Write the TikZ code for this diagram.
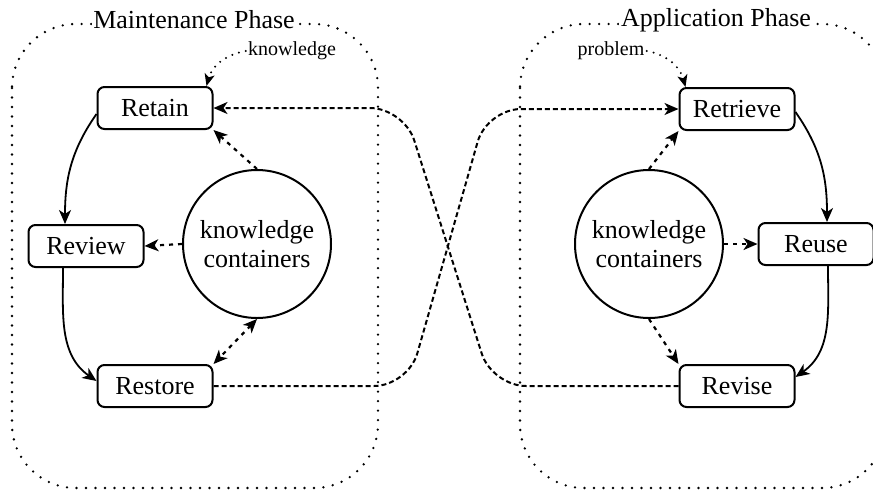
\documentclass[tikz,border=0pt]{standalone}
\usepackage{fontspec}
\setmainfont{Liberation Serif}
\usetikzlibrary{arrows.meta}

\tikzset{
  stage/.style={draw, line width=1pt, rounded corners=3.5pt, minimum width=57.5pt,
    minimum height=21pt, inner sep=0pt, font=\fontsize{13}{15}\selectfont},
  kbase/.style={draw, circle, line width=1pt, minimum size=74pt, inner sep=0pt,
    align=center, font=\fontsize{13}{14.5}\selectfont},
  phase/.style={line width=1.3pt, line cap=round, dash pattern=on 0pt off 4.75pt,
    rounded corners=32pt},
  tip/.style={-{Stealth[length=7pt,width=6pt,inset=2pt]}},
  flow/.style={tip, line width=0.9pt},
  kflow/.style={tip, line width=1.1pt, dash pattern=on 2pt off 2.5pt},
  inflow/.style={line width=1.1pt, line cap=round, dash pattern=on 0pt off 3.5pt,
    -{Stealth[length=6pt,width=5pt,inset=1.5pt]}},
  handover/.style={line width=1pt, dash pattern=on 2.5pt off 1.5pt, rounded corners=17pt},
}

\begin{document}
\begin{tikzpicture}[x=0.5pt,y=-0.5pt]
        \clip (0,0) rectangle (873,494);

        % Phasen
        \draw[phase] (12,24) rectangle (378,488);
        \draw[phase] (520,24) rectangle (886,488);
        \node[fill=white, inner sep=0.8pt, font=\fontsize{13}{15}\selectfont] (mphase) at (194,20) {Maintenance Phase};
        \node[fill=white, inner sep=0.8pt, font=\fontsize{13}{15}\selectfont] (aphase) at (716,20) {Application Phase};

        % Wartung
        \node[stage] (Retain) at (155,108) {Retain};
        \node[stage] (Review) at (86,246) {Review};
        \node[stage] (Restore) at (155,386) {Restore};
        \node[kbase] (Kl) at (257,244) {knowledge\\containers};

        % Anwendung
        \node[stage] (Retrieve) at (737,109) {Retrieve};
        \node[stage] (Reuse) at (816,244) {Reuse};
        \node[stage] (Revise) at (737,386) {Revise};
        \node[kbase] (Kr) at (649,244) {knowledge\\containers};

        \node[font=\fontsize{10}{12}\selectfont, inner sep=1pt] (know) at (292,51) {knowledge};
        \node[font=\fontsize{10}{12}\selectfont, inner sep=1pt] (prob) at (611,51) {problem};

        % Zyklen
        \draw[flow] ([yshift=-3pt]Retain.west) to[out=-125, in=90] ([xshift=-10.5pt]Review.north);
        \draw[flow] ([xshift=-11.5pt]Review.south) to[out=-90, in=145] ([yshift=2.5pt]Restore.west);
        \draw[flow] ([yshift=-1.5pt]Retrieve.east) to[out=-55, in=90] ([xshift=5.5pt]Reuse.north);
        \draw[flow] ([xshift=6pt]Reuse.south) to[out=-90, in=35] ([yshift=4.5pt]Revise.east);

        \draw[kflow] (Kl.north) -- (Retain.south east);
        \draw[kflow] (Kl.west) -- (Review.east);
        \draw[kflow, {Stealth[length=7pt,width=6pt,inset=2pt]}-{Stealth[length=7pt,width=6pt,inset=2pt]}] (Kl.south) -- (Restore.north east);
        \draw[kflow] (Kr.north) -- (Retrieve.south west);
        \draw[kflow] (Kr.east) -- (Reuse.west);
        \draw[kflow] (Kr.south) -- (Revise.north west);

        \draw[inflow] (know.west) to[out=190, in=75] ([xshift=-3.5pt]Retain.north east);
        \draw[inflow] (prob.east) to[out=-10, in=105] ([xshift=3.5pt]Retrieve.north west);

        % Kreuzung
        \coordinate (C1) at (408,386);
        \coordinate (C2) at (487,109);
        \coordinate (C3) at (492,386);
        \coordinate (C4) at (404,108);
        \draw[handover, tip] (Restore.east) -- (C1) -- (C2) -- (Retrieve.west);
        \draw[handover, tip] (Revise.west) -- (C3) -- (C4) -- (Retain.east);

    \end{tikzpicture}
\end{document}
